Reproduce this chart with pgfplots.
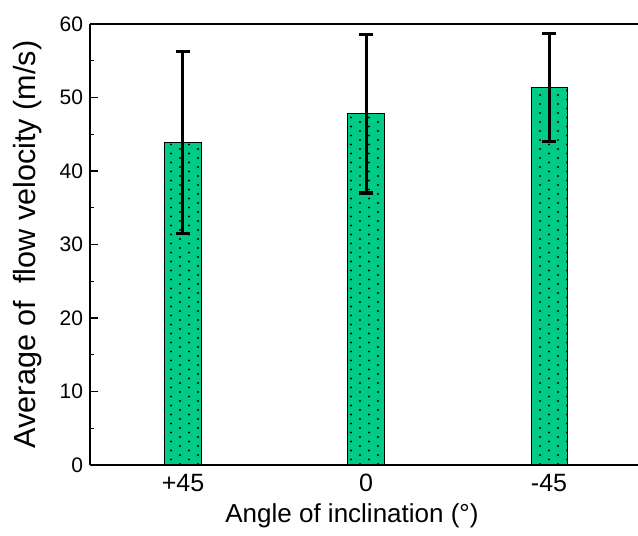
\documentclass[border=0pt]{standalone}
\usepackage{pgfplots}
\pgfplotsset{compat=1.18}
\usepackage{fontspec}
\setmainfont{Liberation Sans}
\usetikzlibrary{patterns.meta}
\definecolor{bargreen}{RGB}{0,204,136}

% staggered dot fill: columns 4.5pt apart, alternate columns shifted by half a period
\tikzdeclarepattern{
  name=staggerdots,
  type=uncolored,
  bounding box={(-1pt,-1pt) and (8pt,3.5pt)},
  tile size={(9pt,4.5pt)},
  code={
    \fill (0pt,0pt) circle (0.6pt);
    \fill (4.5pt,2.25pt) circle (0.6pt);
  }
}

\begin{document}
\begin{tikzpicture}
\begin{axis}[
  name=ax,
  scale only axis,
  width=274pt, height=220.5pt,
  xmin=-0.508, xmax=2.486,
  ymin=0, ymax=60,
  axis lines=left,
  axis line style={-, line width=0.7pt},
  tick align=inside,
  xtick={0,1,2},
  xticklabels={+45,0,-45},
  ytick={0,10,...,60},
  minor y tick num=1,
  major tick length=4pt,
  minor tick length=2pt,
  tick style={line width=0.7pt, black},
  /pgf/number format/assume math mode=true,
  yticklabel style={font=\fontsize{10.5}{12}\selectfont},
  xticklabel style={font=\fontsize{12.5}{14}\selectfont, yshift=-1pt},
  xlabel style={font=\fontsize{13}{15}\selectfont, xshift=-6pt, yshift=1pt},
  ylabel style={font=\fontsize{15.3}{17}\selectfont, yshift=2pt},
  xlabel={Angle of inclination (°)},
  ylabel={Average of\ \ flow velocity (m/s)},
  clip=false,
]
\addplot[
  ybar, bar width=0.197,
  draw=black, line width=0.5pt,
  fill=bargreen,
  postaction={pattern=staggerdots, pattern color=black},
  error bars/.cd,
    y dir=both, y explicit,
    error bar style={line width=1.5pt, black},
    error mark options={rotate=90, mark size=3.5pt, line width=1.6pt, black},
] coordinates {
  (0,43.9) +- (0,12.4)
  (1,47.8) +- (0,10.8)
  (2,51.4) +- (0,7.35)
};
\draw[line width=0.7pt] (rel axis cs:0,1) -- (rel axis cs:1,1);
\end{axis}
% page extent around the axis box
\pgfresetboundingbox
\path ([shift={(-45pt,-35.5pt)}]ax.south west) rectangle ([shift={(0pt,12pt)}]ax.north east);
\end{tikzpicture}
\end{document}
